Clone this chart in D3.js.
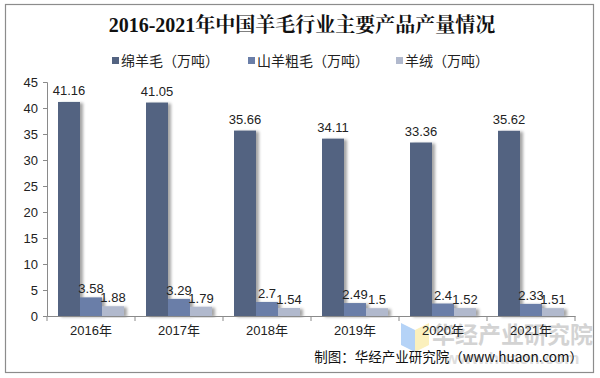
<!DOCTYPE html>
<html>
<head>
<meta charset="utf-8">
<script src="https://cdn.jsdelivr.net/npm/d3@7"></script>
<style>
  body { margin: 0; background: #fff; }
  text { font-family: "Liberation Sans", Arial, "Noto Sans CJK SC", sans-serif; }
</style>
</head>
<body>
<script>
var w = 600;
var h = 378;

// data
var years = ["2016年", "2017年", "2018年", "2019年", "2020年", "2021年"];
var seriesNames = ["绵羊毛（万吨）", "山羊粗毛（万吨）", "羊绒（万吨）"];
var sheepWool = [41.16, 41.05, 35.66, 34.11, 33.36, 35.62];
var goatWool = [3.58, 3.29, 2.7, 2.49, 2.4, 2.33];
var cashmere = [1.88, 1.79, 1.54, 1.5, 1.52, 1.51];
var yTicks = [0, 5, 10, 15, 20, 25, 30, 35, 40, 45];
var colors = ["#536381", "#6a7ea8", "#b1b9cd"];

var series = [sheepWool, goatWool, cashmere];

var svg = d3.select("body")
  .append("svg")
  .attr("width", w)
  .attr("height", h);

// shadow under the bars
var defs = svg.append("defs");
var f = defs.append("filter").attr("id", "shadow")
  .attr("x", "-20%").attr("y", "-20%").attr("width", "160%").attr("height", "140%");
f.append("feDropShadow")
  .attr("dx", 3).attr("dy", 1).attr("stdDeviation", 1.8)
  .attr("flood-color", "#000").attr("flood-opacity", 0.35);

// outer frame
svg.append("rect")
  .attr("x", 5.5).attr("y", 4.5)
  .attr("width", 588).attr("height", 368)
  .attr("fill", "#fff")
  .attr("stroke", "#8c8c8c")
  .attr("stroke-width", 1.2);

// title
svg.append("text")
  .attr("x", 302)
  .attr("y", 32)
  .attr("text-anchor", "middle")
  .style("font-family", "'Liberation Serif', 'Noto Serif CJK SC', 'Noto Sans CJK SC', serif")
  .style("font-size", "20px")
  .style("font-weight", "bold")
  .attr("fill", "#111")
  .text("2016-2021年中国羊毛行业主要产品产量情况");

// legend
var legendX = [112, 248, 396];
var legend = svg.selectAll(".legend")
  .data(seriesNames)
  .enter()
  .append("g")
  .attr("transform", function(d, i) { return "translate(" + legendX[i] + ",61)"; });
legend.append("rect")
  .attr("x", 0).attr("y", -4)
  .attr("width", 7).attr("height", 7)
  .attr("fill", function(d, i) { return colors[i]; });
legend.append("text")
  .attr("x", 9)
  .attr("y", 5)
  .style("font-family", "'Noto Sans CJK SC', sans-serif")
  .style("font-size", "14px")
  .attr("fill", "#222")
  .text(function(d) { return d; });

// scales
var x0 = d3.scaleBand()
  .domain(years)
  .range([47, 575])
  .paddingInner(0.25)
  .paddingOuter(0.125);

var x1 = d3.scaleBand()
  .domain([0, 1, 2])
  .range([0, x0.bandwidth()]);

var yScale = d3.scaleLinear()
  .domain([0, 45])
  .range([316, 82]);

// watermark (behind bars)
var wm = svg.append("g");
wm.append("polygon")
  .attr("points", "401,323 415,330 415,352 401,345")
  .attr("fill", "#b5d3f7");
wm.append("polygon")
  .attr("points", "415,330 429,323 429,345 415,352")
  .attr("fill", "#fbf0bd");
wm.append("text")
  .attr("x", 432).attr("y", 343)
  .style("font-family", "'Noto Sans CJK SC', sans-serif")
  .style("font-size", "23px")
  .style("font-weight", "bold")
  .attr("fill", "#d3d3d3")
  .text("华经产业研究院");
wm.append("text")
  .attr("x", 445).attr("y", 364)
  .style("font-size", "17px")
  .style("font-weight", "bold")
  .attr("fill", "#dedede")
  .text("www.huaon.com");

// bars
var groups = svg.selectAll(".grp")
  .data(years)
  .enter()
  .append("g")
  .attr("transform", function(d) { return "translate(" + x0(d) + ",0)"; });

groups.selectAll("rect")
  .data(function(d, i) { return series.map(function(s, k) { return { k: k, v: s[i] }; }); })
  .enter()
  .append("rect")
  .attr("x", function(d) { return x1(d.k); })
  .attr("y", function(d) { return yScale(d.v); })
  .attr("width", x1.bandwidth())
  .attr("height", function(d) { return yScale(0) - yScale(d.v); })
  .attr("fill", function(d) { return colors[d.k]; })
  .attr("filter", "url(#shadow)");

// value labels
groups.selectAll(".lbl")
  .data(function(d, i) { return series.map(function(s, k) { return { k: k, v: s[i] }; }); })
  .enter()
  .append("text")
  .attr("x", function(d) { return x1(d.k) + x1.bandwidth() / 2; })
  .attr("y", function(d) { return yScale(d.v) - (d.k == 0 ? 7 : 4); })
  .attr("text-anchor", "middle")
  .style("font-size", "13px")
  .attr("fill", "#222")
  .text(function(d) { return d.v; });

// y axis
var yAxis = d3.axisLeft(yScale)
  .tickValues(yTicks)
  .tickSize(4)
  .tickPadding(5);
var gy = svg.append("g")
  .attr("transform", "translate(47,0)")
  .call(yAxis);
gy.select(".domain").attr("stroke", "#8a8a8a");
gy.selectAll(".tick line").attr("stroke", "#8a8a8a");
gy.selectAll(".tick text")
  .style("font-size", "13px")
  .attr("fill", "#222");

// x axis
var xAxis = d3.axisBottom(x0).tickSize(0).tickPadding(10);
var gx = svg.append("g")
  .attr("transform", "translate(0,316)")
  .call(xAxis);
gx.select(".domain").attr("stroke", "#8a8a8a");
gx.selectAll(".tick text")
  .style("font-size", "13px")
  .attr("fill", "#222");

// category separators
var seps = years.map(function(d) { return x0(d) - x0.step() * 0.125; });
seps.push(575);
svg.selectAll(".sep")
  .data(seps)
  .enter()
  .append("line")
  .attr("x1", function(d) { return d; })
  .attr("x2", function(d) { return d; })
  .attr("y1", 316)
  .attr("y2", 321)
  .attr("stroke", "#8a8a8a");

// source note
svg.append("text")
  .attr("x", 583)
  .attr("y", 362)
  .attr("text-anchor", "end")
  .style("font-family", "'Noto Sans CJK SC', sans-serif")
  .style("font-size", "13.5px")
  .attr("fill", "#111")
  .text("制图：华经产业研究院（www.huaon.com）");
</script>
</body>
</html>
